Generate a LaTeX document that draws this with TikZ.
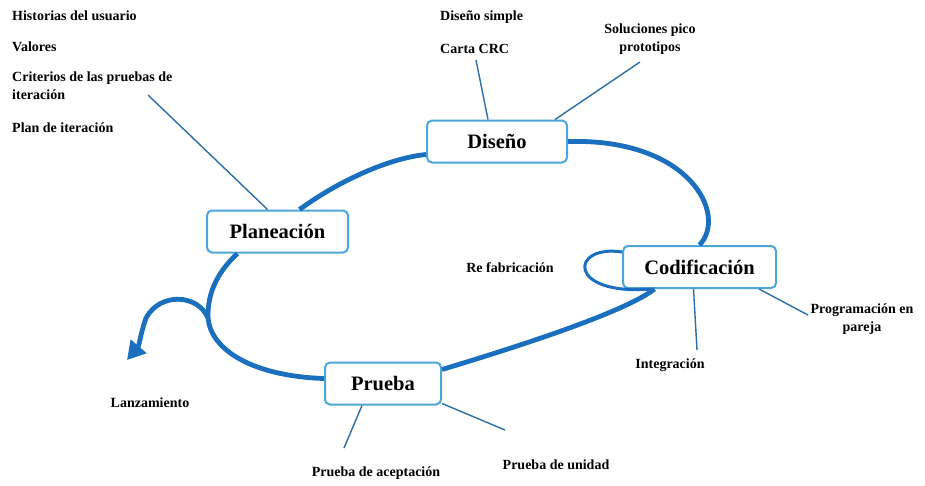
\documentclass[tikz,border=0pt]{standalone}
\usepackage{fontspec}
\setmainfont{Liberation Serif}
\usetikzlibrary{arrows.meta}
\definecolor{loopblue}{HTML}{1A6FBF}
\definecolor{boxline}{HTML}{4CA6D8}
\definecolor{twigblue}{HTML}{2B6EA6}
\tikzset{
  phase/.style={rectangle, rounded corners=5pt, draw=boxline, line width=2pt,
    fill=white, minimum height=42pt, font=\fontsize{20.5}{22}\selectfont\bfseries},
  leaf/.style={font=\fontsize{14}{18}\selectfont\bfseries, inner sep=0pt},
  twig/.style={draw=twigblue, line width=1.4pt},
  cycleline/.style={draw=loopblue, line width=4.8pt},
}
\begin{document}
\begin{tikzpicture}[x=1pt, y=-1pt]
  \useasboundingbox (0,0) rectangle (925,485);

  % phases
  \node[phase, minimum width=140pt] (diseno) at (497,141.5) {Diseño};
  \node[phase, minimum width=141pt] (planeacion) at (277.5,231.5) {Planeación};
  \node[phase, minimum width=153pt] (codificacion) at (699.5,267) {Codificación};
  \node[phase, minimum width=116pt] (prueba) at (383,383.5) {Prueba};

  % planeacion leaves
  \node[leaf, anchor=west] (historias) at (12,16) {Historias del usuario};
  \node[leaf, anchor=west] (valores) at (12,47) {Valores};
  \node[leaf, anchor=north west, align=left] (criterios) at (12,72) {Criterios de las pruebas de\\iteración};
  \node[leaf, anchor=west] (plan) at (12,128) {Plan de iteración};

  % diseno leaves
  \node[leaf, anchor=west] (simple) at (440,17) {Diseño simple};
  \node[leaf, anchor=west] (crc) at (440,49) {Carta CRC};
  \node[leaf, align=center] (pico) at (650,39) {Soluciones pico\\prototipos};

  % codificacion leaves
  \node[leaf] (refab) at (510,268) {Re fabricación};
  \node[leaf, align=center] (pareja) at (862,319) {Programación en\\pareja};
  \node[leaf] (integracion) at (670,365) {Integración};

  % prueba leaves
  \node[leaf] (lanzamiento) at (150,403) {Lanzamiento};
  \node[leaf] (aceptacion) at (376,473) {Prueba de aceptación};
  \node[leaf] (unidad) at (556,465) {Prueba de unidad};

  % free ends of the twigs
  \coordinate (criterios-end) at (148,95);
  \coordinate (crc-end) at (476,60);
  \coordinate (pico-end) at (640,62);
  \coordinate (integracion-end) at (697,350);
  \coordinate (pareja-end) at (808,315);
  \coordinate (aceptacion-end) at (344,448);
  \coordinate (unidad-end) at (505,430);

  \draw[twig] ([xshift=-10pt]planeacion.north) -- (criterios-end);
  \draw[twig] ([xshift=-9pt]diseno.north) -- (crc-end);
  \draw[twig] ([xshift=58pt]diseno.north) -- (pico-end);
  \draw[twig] ([xshift=-6pt]codificacion.south) -- (integracion-end);
  \draw[twig] ([xshift=-18pt]codificacion.south east) -- (pareja-end);
  \draw[twig] ([xshift=-21pt]prueba.south) -- (aceptacion-end);
  \draw[twig] ([yshift=2pt]prueba.south east) -- (unidad-end);

  % the cycle
  \coordinate (fork) at (208,315);
  \draw[cycleline] (diseno.east) .. controls (690,138) and (728,215) .. (codificacion.north);
  \draw[cycleline] ([xshift=-45pt]codificacion.south) .. controls (625,312) and (520,346) .. ([yshift=14pt]prueba.east);
  \draw[cycleline] ([yshift=5pt]prueba.west) .. controls (250,376) and (208,348) .. (fork)
    .. controls (208,285) and (225,265) .. ([xshift=-40pt]planeacion.south);
  \draw[cycleline] ([xshift=22pt]planeacion.north) .. controls (340,180) and (390,158) .. ([yshift=-13pt]diseno.west);

  % re fabricacion loop
  \draw[draw=loopblue, line width=3pt] ([yshift=15pt]codificacion.west) .. controls (570,244) and (566,296) .. ([xshift=-48pt]codificacion.south);

  % lanzamiento
  \draw[cycleline, -{Triangle[length=18pt, width=20pt]}] ([yshift=-3pt]fork) .. controls (198,294) and (160,292) .. (146,318)
    .. controls (141,332) and (139,346) .. (127,360);
\end{tikzpicture}
\end{document}
